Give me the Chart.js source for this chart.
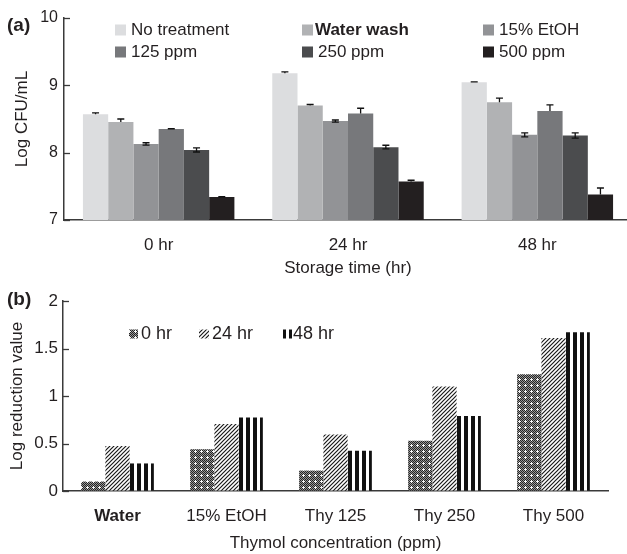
<!DOCTYPE html>
<html><head><meta charset="utf-8">
<script src="https://cdn.jsdelivr.net/npm/chart.js@4.4.1/dist/chart.umd.min.js"></script>
<style>
html,body{margin:0;padding:0;width:627px;height:554px;overflow:hidden;background:#fff;}
#wrap{position:relative;width:627px;height:554px;overflow:hidden;}
#ca{position:absolute;left:0;top:0;}
#cb{position:absolute;left:0;top:280px;}
</style></head><body>
<div id="wrap"><canvas id="ca" width="640" height="280"></canvas><canvas id="cb" width="627" height="274"></canvas></div>
<script>
// ---------- Data: panel (a) ----------
const timeLabels = ['0 hr', '24 hr', '48 hr'];
const treatmentNames = ['No treatment', 'Water wash', '15% EtOH', '125 ppm', '250 ppm', '500 ppm'];
const noTreatment = [8.57, 9.18, 9.045];
const waterWash   = [8.455, 8.70, 8.75];
const ethanol15   = [8.13, 8.47, 8.265];
const ppm125      = [8.35, 8.58, 8.62];
const ppm250      = [8.04, 8.08, 8.255];
const ppm500      = [7.34, 7.57, 7.38];
const noTreatmentErrUp = [0.02, 0.02, 0.005];
const waterWashErrUp   = [0.045, 0.015, 0.06];
const ethanol15ErrUp   = [0.017, 0.015, 0.03];
const ppm125ErrUp      = [0.005, 0.08, 0.09];
const ppm250ErrUp      = [0.03, 0.03, 0.04];
const ppm500ErrUp      = [0.005, 0.02, 0.095];
const noTreatmentErrDown = [0, 0, 0];
const waterWashErrDown   = [0, 0, 0];
const ethanol15ErrDown   = [0.017, 0.015, 0.03];
const ppm125ErrDown      = [0, 0, 0];
const ppm250ErrDown      = [0.03, 0.025, 0.04];
const ppm500ErrDown      = [0, 0, 0];
const yTicksA = [7, 8, 9, 10];

// ---------- Data: panel (b) ----------
const concLabels = ['Water', '15% EtOH', 'Thy 125', 'Thy 250', 'Thy 500'];
const hourNames = ['0 hr', '24 hr', '48 hr'];
const reduction0h  = [0.10, 0.44, 0.215, 0.53, 1.23];
const reduction24h = [0.475, 0.705, 0.595, 1.10, 1.61];
const reduction48h = [0.29, 0.775, 0.425, 0.79, 1.67];
const yTicksB = [0, 0.5, 1, 1.5, 2];

// ---------- Styles ----------
const FONT = "'Liberation Sans', Arial, Helvetica, sans-serif";
const TEXT = '#231f20';
const AXIS = '#3a3a3a';
Chart.defaults.font.family = FONT;
Chart.defaults.color = TEXT;
const greysA = ['#dcdddf', '#b1b2b4', '#929396', '#77787b', '#4b4c4e', '#231f20'];

// patterns
function tile(w, h, draw) { const c = document.createElement('canvas'); c.width = w; c.height = h; draw(c.getContext('2d'), w, h); return c; }
const dotTile = tile(6, 6, (g, w, h) => {
  const img = g.createImageData(w, h);
  for (let y = 0; y < h; y++) for (let x = 0; x < w; x++) {
    let v = ((x + y) % 2 === 0) ? 35 : 150;
    if ((x === 3 && y >= 2 && y <= 4) || (y === 3 && x >= 2 && x <= 4)) v = 245;
    const k = (y * w + x) * 4; img.data[k] = img.data[k+1] = img.data[k+2] = v; img.data[k+3] = 255;
  }
  g.putImageData(img, 0, 0);
});
const diagTile = tile(4, 4, (g, w, h) => {
  g.fillStyle = '#fff'; g.fillRect(0, 0, w, h);
  g.strokeStyle = '#1a1a1a'; g.lineWidth = 1.2;
  g.beginPath();
  g.moveTo(-1, h + 1); g.lineTo(w + 1, -1);
  g.moveTo(-1, 1); g.lineTo(1, -1);
  g.moveTo(w - 1, h + 1); g.lineTo(w + 1, h - 1);
  g.stroke();
});
const stripeTile = tile(7, 1, (g) => {
  g.fillStyle = '#fff'; g.fillRect(0, 0, 7, 1);
  g.fillStyle = '#111'; g.fillRect(0, 0, 4, 1);
});
const ctxB = document.getElementById('cb').getContext('2d');
const dotPattern = ctxB.createPattern(dotTile, 'repeat');
const diagPattern = ctxB.createPattern(diagTile, 'repeat');
const CAT_PCT_B = 0.667;
function stripeFor(c) {
  const p = ctxB.createPattern(stripeTile, 'repeat');
  const xs = c.chart && c.chart.scales && c.chart.scales.x;
  if (xs && c.dataIndex !== undefined && isFinite(xs.left) && xs.right > xs.left) {
    const catW = (xs.right - xs.left) / concLabels.length;
    const barW = catW * CAT_PCT_B / 3;
    const left = xs.getPixelForValue(c.dataIndex) + barW / 2;
    if (isFinite(left)) p.setTransform(new DOMMatrix().translateSelf(Math.round(left), 0));
  }
  return p;
}

// ---------- Plugins ----------
const errorBars = {
  id: 'errorBars',
  afterDatasetsDraw(chart) {
    const ctx = chart.ctx, ys = chart.scales.y;
    ctx.save(); ctx.strokeStyle = '#111'; ctx.lineWidth = 1.3;
    chart.data.datasets.forEach((ds, i) => {
      const meta = chart.getDatasetMeta(i);
      meta.data.forEach((el, j) => {
        const v = ds.data[j];
        const top = ys.getPixelForValue(v + ds.errUp[j]);
        const bot = ys.getPixelForValue(v - ds.errDown[j]);
        ctx.beginPath();
        ctx.moveTo(el.x, bot); ctx.lineTo(el.x, top);
        ctx.moveTo(el.x - 3.5, top); ctx.lineTo(el.x + 3.5, top);
        if (ds.errDown[j] > 0) { ctx.moveTo(el.x - 3.5, bot); ctx.lineTo(el.x + 3.5, bot); }
        ctx.stroke();
      });
    });
    ctx.restore();
  }
};
const inwardTicks = {
  id: 'inwardTicks',
  afterDraw(chart) {
    const ctx = chart.ctx, ys = chart.scales.y;
    ctx.save(); ctx.strokeStyle = AXIS; ctx.lineWidth = 1.3;
    ys.ticks.forEach(t => {
      const y = Math.round(ys.getPixelForValue(t.value)) + 0.5;
      ctx.beginPath(); ctx.moveTo(ys.right, y); ctx.lineTo(ys.right + 6, y); ctx.stroke();
    });
    ctx.restore();
  }
};
const panelA = {
  id: 'panelA',
  afterDraw(chart) {
    const ctx = chart.ctx;
    ctx.save();
    ctx.fillStyle = TEXT; ctx.textBaseline = 'middle'; ctx.textAlign = 'left';
    ctx.font = 'bold 19px ' + FONT; ctx.fillText('(a)', 7, 26);
    const cols = [115, 302, 483], rows = [30, 52];
    chart.data.datasets.forEach((ds, i) => {
      const x = cols[i % 3], y = rows[Math.floor(i / 3)];
      ctx.fillStyle = ds.backgroundColor; ctx.fillRect(x, y - 5.5, 11, 11);
      ctx.fillStyle = TEXT;
      ctx.font = (i === 1 ? 'bold ' : '') + '17px ' + FONT;
      ctx.fillText(ds.label, x + (i === 1 ? 13 : 16), y);
    });
    ctx.restore();
  }
};
const panelB = {
  id: 'panelB',
  afterDraw(chart) {
    const ctx = chart.ctx;
    ctx.save();
    ctx.fillStyle = TEXT; ctx.textBaseline = 'middle'; ctx.textAlign = 'left';
    ctx.font = 'bold 19px ' + FONT; ctx.fillText('(b)', 7, 20);
    const bx = [129, 199, 283], tx = [141, 212, 293], y = 54;
    ctx.fillStyle = dotPattern; ctx.fillRect(bx[0], y - 4.5, 9, 9);
    ctx.fillStyle = diagPattern; ctx.fillRect(bx[1], y - 4.5, 10, 9);
    ctx.fillStyle = '#111'; ctx.fillRect(bx[2], y - 4.5, 3, 9); ctx.fillRect(bx[2] + 6, y - 4.5, 3, 9);
    ctx.fillStyle = TEXT; ctx.font = '18px ' + FONT;
    chart.data.datasets.forEach((ds, i) => ctx.fillText(ds.label, tx[i], y));
    ctx.restore();
  }
};

const axisCommon = {
  grid: { display: true, drawOnChartArea: false, drawTicks: false },
  border: { display: true, color: AXIS, width: 1.5 }
};

// ---------- Chart (a) ----------
const seriesA = [noTreatment, waterWash, ethanol15, ppm125, ppm250, ppm500];
const errUpA = [noTreatmentErrUp, waterWashErrUp, ethanol15ErrUp, ppm125ErrUp, ppm250ErrUp, ppm500ErrUp];
const errDownA = [noTreatmentErrDown, waterWashErrDown, ethanol15ErrDown, ppm125ErrDown, ppm250ErrDown, ppm500ErrDown];
new Chart(document.getElementById('ca'), {
  type: 'bar',
  data: {
    labels: timeLabels,
    datasets: treatmentNames.map((n, i) => ({
      label: n, data: seriesA[i], errUp: errUpA[i], errDown: errDownA[i],
      backgroundColor: greysA[i], borderWidth: 0, categoryPercentage: 0.8, barPercentage: 1
    }))
  },
  options: {
    responsive: false, animation: false, events: [],
    layout: { padding: { top: 18, right: 8, left: 0, bottom: 0 } },
    plugins: { legend: { display: false }, tooltip: { enabled: false } },
    scales: {
      x: Object.assign({}, axisCommon, {
        ticks: { padding: 15, font: { size: 17 }, color: TEXT },
        title: { display: true, text: 'Storage time (hr)', font: { size: 17 }, color: TEXT, padding: { top: 0, bottom: 1 } },
        afterFit(s) { s.height = 60; }
      }),
      y: Object.assign({}, axisCommon, {
        min: 7, max: 10,
        afterBuildTicks(s) { s.ticks = yTicksA.map(v => ({ value: v })); },
        ticks: { padding: 6, font: { size: 16 }, color: TEXT, callback: v => String(v) },
        title: { display: true, text: 'Log CFU/mL', font: { size: 17 }, color: TEXT, padding: { top: 12, bottom: 0 } },
        afterFit(s) { s.width = 64; }
      })
    }
  },
  plugins: [errorBars, inwardTicks, panelA]
});

// ---------- Chart (b) ----------
new Chart(document.getElementById('cb'), {
  type: 'bar',
  data: {
    labels: concLabels,
    datasets: [
      { label: hourNames[0], data: reduction0h, backgroundColor: dotPattern },
      { label: hourNames[1], data: reduction24h, backgroundColor: diagPattern },
      { label: hourNames[2], data: reduction48h, backgroundColor: (c) => stripeFor(c) }
    ].map(d => Object.assign(d, { borderWidth: 0, categoryPercentage: CAT_PCT_B, barPercentage: 1 }))
  },
  options: {
    responsive: false, animation: false, events: [],
    layout: { padding: { top: 21, right: 19, left: 0, bottom: 0 } },
    plugins: { legend: { display: false }, tooltip: { enabled: false } },
    scales: {
      x: Object.assign({}, axisCommon, {
        ticks: { padding: 15, color: TEXT, font: (c) => ({ size: 17, weight: c.index === 0 ? 'bold' : 'normal' }) },
        title: { display: true, text: 'Thymol concentration (ppm)', font: { size: 17 }, color: TEXT, padding: { top: 0, bottom: 0 } },
        afterFit(s) { s.height = 63; }
      }),
      y: Object.assign({}, axisCommon, {
        min: 0, max: 2,
        afterBuildTicks(s) { s.ticks = yTicksB.map(v => ({ value: v })); },
        ticks: { padding: 5, font: { size: 17 }, color: TEXT, callback: v => String(v) },
        title: { display: true, text: 'Log reduction value', font: { size: 17 }, color: TEXT, padding: { top: 7, bottom: 0 } },
        afterFit(s) { s.width = 63; }
      })
    }
  },
  plugins: [inwardTicks, panelB]
});
</script>
</body></html>
